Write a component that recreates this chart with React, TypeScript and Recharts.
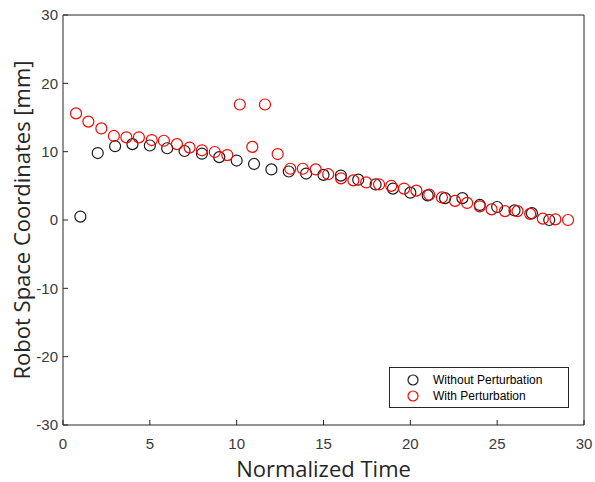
import { ScatterChart, Scatter, XAxis, YAxis, Label } from 'recharts';

// Without Perturbation (black)
const baseX = [1, 2, 3, 4, 5, 6, 7, 8, 9, 10, 11, 12, 13, 14, 15, 16, 17, 18, 19, 20, 21, 22, 23, 24, 25, 26, 27, 28];
const baseY = [0.5, 9.8, 10.8, 11.1, 10.9, 10.5, 10.1, 9.7, 9.2, 8.7, 8.2, 7.4, 7.1, 6.8, 6.6, 6.5, 5.9, 5.2, 4.6, 4.0, 3.6, 3.2, 3.2, 2.2, 1.9, 1.4, 1.0, 0.0];

// With Perturbation (red)
const pertX = [0.75, 1.46, 2.21, 2.93, 3.65, 4.37, 5.11, 5.81, 6.56, 7.29, 8.0, 8.74, 9.46, 10.18, 10.9, 11.63, 12.36, 13.09, 13.81, 14.55, 15.27, 16.01, 16.72, 17.46, 18.2, 18.9, 19.64, 20.35, 21.09, 21.82, 22.57, 23.27, 24.0, 24.68, 25.45, 26.17, 26.9, 27.63, 28.35, 29.08];
const pertY = [15.6, 14.4, 13.4, 12.3, 12.1, 12.1, 11.7, 11.6, 11.1, 10.6, 10.2, 9.95, 9.5, 16.9, 10.7, 16.9, 9.65, 7.5, 7.5, 7.4, 6.7, 6.1, 5.8, 5.5, 5.2, 5.0, 4.6, 4.3, 3.7, 3.3, 2.8, 2.5, 2.0, 1.55, 1.3, 1.3, 0.9, 0.2, 0.1, 0.0];

const xTicks = [0, 5, 10, 15, 20, 25, 30];
const yTicks = [-30, -20, -10, 0, 10, 20, 30];

const baseData = baseX.map((x, i) => ({ x, y: baseY[i] }));
const pertData = pertX.map((x, i) => ({ x, y: pertY[i] }));

const AX = '#262626';
const tickFont = { fontSize: 15, fill: '#3a3a3a', fontFamily: 'Liberation Sans, Arial, sans-serif' };

const ring = (color: string) => (props: any) =>
  <circle cx={props.cx} cy={props.cy} r={5.5} fill="none" stroke={color} strokeWidth={1.2} />;

function LegendBox() {
  const rows = [
    { label: 'Without Perturbation', color: '#1a1a1a' },
    { label: 'With Perturbation', color: '#ff0000' },
  ];
  return (
    <div style={{ position: 'absolute', left: 389, top: 367, border: '1px solid #262626', background: '#fff', width: 178, height: 39, fontFamily: 'Liberation Sans, Arial, sans-serif', fontSize: 12, color: '#000' }}>
      {rows.map((r, i) => (
        <div key={r.label} style={{ display: 'flex', alignItems: 'center', height: 16, marginTop: i === 0 ? 4 : 0 }}>
          <svg width={43} height={16}>
            <circle cx={23} cy={8} r={5} fill="none" stroke={r.color} strokeWidth={1.2} />
          </svg>
          <span>{r.label}</span>
        </div>
      ))}
    </div>
  );
}

export default function App() {
  return (
    <div style={{ position: 'absolute', left: 0, top: 0, width: 595, height: 482, background: '#fff' }}>
      <ScatterChart width={595} height={482} margin={{ top: 14, right: 10, bottom: 0, left: 0 }}>
        <XAxis
          xAxisId="b"
          type="number"
          dataKey="x"
          domain={[0, 30]}
          ticks={xTicks}
          height={57}
          stroke={AX}
          tickSize={-5}
          tickMargin={18}
          tick={tickFont}
        >
          <Label
            content={(p: any) => {
              const vb = p.viewBox;
              return (
                <text x={vb.x + vb.width / 2} y={468} textAnchor="middle" dominantBaseline="central" fontSize={22} fill="#262626" fontFamily="Open Sans, sans-serif">
                  Normalized Time
                </text>
              );
            }}
          />
        </XAxis>
        <XAxis xAxisId="t" orientation="top" type="number" dataKey="x" domain={[0, 30]} ticks={xTicks} height={1} stroke={AX} tickSize={-5} tick={false} />
        <YAxis
          yAxisId="l"
          type="number"
          dataKey="y"
          domain={[-30, 30]}
          ticks={yTicks}
          width={63}
          stroke={AX}
          tickSize={-5}
          tickMargin={10}
          tick={tickFont}
        >
          <Label
            content={(p: any) => {
              const vb = p.viewBox;
              const cy = vb.y + vb.height / 2;
              return (
                <text x={21} y={cy} transform={`rotate(-90, 21, ${cy})`} textAnchor="middle" dominantBaseline="central" fontSize={22} fill="#262626" fontFamily="Open Sans, sans-serif">
                  Robot Space Coordinates [mm]
                </text>
              );
            }}
          />
        </YAxis>
        <YAxis yAxisId="r" orientation="right" type="number" dataKey="y" domain={[-30, 30]} ticks={yTicks} width={1} stroke={AX} tickSize={-5} tick={false} />
        <Scatter name="Without Perturbation" data={baseData} xAxisId="b" yAxisId="l" shape={ring('#1a1a1a')} isAnimationActive={false} />
        <Scatter name="With Perturbation" data={pertData} xAxisId="b" yAxisId="l" shape={ring('#ff0000')} isAnimationActive={false} />
      </ScatterChart>
      <LegendBox />
    </div>
  );
}
